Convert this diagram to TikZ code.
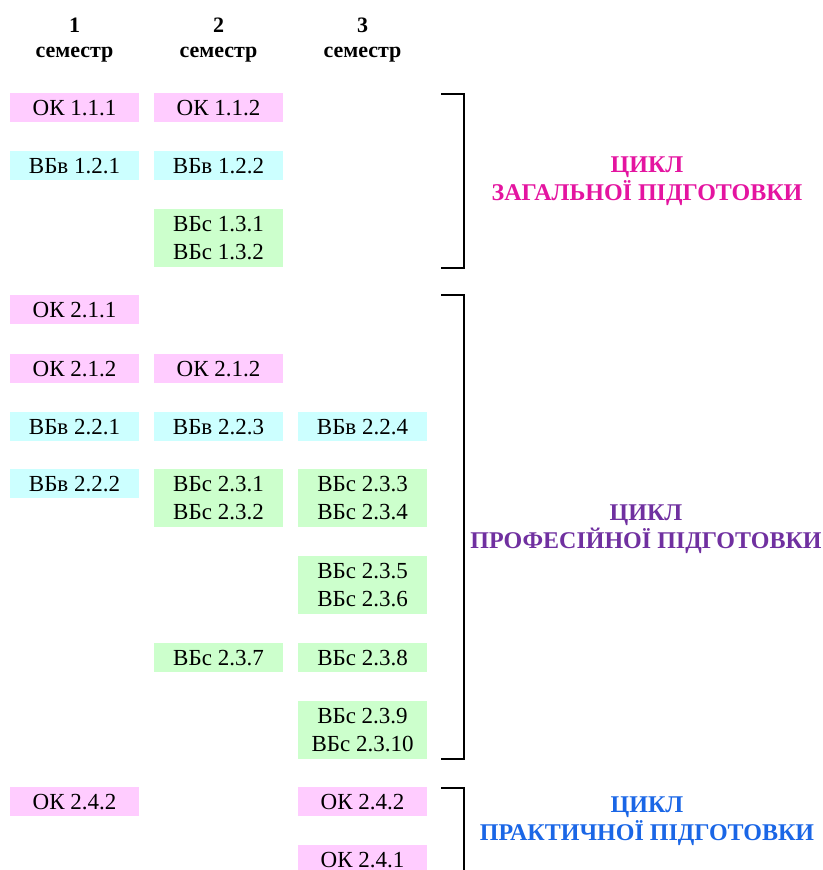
\documentclass[tikz,border=0pt]{standalone}
\usepackage{fontspec}
\setmainfont{Liberation Serif}
\usetikzlibrary{positioning}
\definecolor{okpink}{RGB}{255,204,255}
\definecolor{vbvcyan}{RGB}{204,255,255}
\definecolor{vbsgreen}{RGB}{204,255,204}
\definecolor{zagcol}{RGB}{228,20,160}
\definecolor{profcol}{RGB}{112,48,160}
\definecolor{prakcol}{RGB}{26,102,230}

\begin{document}
\begin{tikzpicture}[x=1pt,y=-1pt,
        subj/.style={anchor=north,minimum width=129pt,minimum height=29pt,inner sep=0pt,
            align=center,font=\fontsize{23}{28}\selectfont},
        ok/.style={subj,fill=okpink},
        vbv/.style={subj,fill=vbvcyan},
        vbs/.style={subj,fill=vbsgreen},
        two/.style={minimum height=58pt},
        sem/.style={align=center,font=\bfseries\fontsize{22}{25}\selectfont},
        cycle/.style={align=center,font=\bfseries\fontsize{24}{28}\selectfont},
        brk/.style={line width=1.4pt}]
            \clip (0,0) rectangle (822,870);
            \node [sem] (s1) at (74.5,40) {1\\семестр};
            \node [sem] (s2) at (218.5,40) {2\\семестр};
            \node [sem] (s3) at (362.5,40) {3\\семестр};

            \node [ok] (a1) at (74.5,93) {ОК 1.1.1};
            \node [ok] (a2) at (218.5,93) {ОК 1.1.2};
            \node [vbv] (b1) at (74.5,151) {ВБв 1.2.1};
            \node [vbv] (b2) at (218.5,151) {ВБв 1.2.2};
            \node [vbs,two] (c2) at (218.5,209) {ВБс 1.3.1\\ВБс 1.3.2};

            \node [ok] (d1) at (74.5,295) {ОК 2.1.1};
            \node [ok] (e1) at (74.5,354) {ОК 2.1.2};
            \node [ok] (e2) at (218.5,354) {ОК 2.1.2};
            \node [vbv] (f1) at (74.5,412) {ВБв 2.2.1};
            \node [vbv] (f2) at (218.5,412) {ВБв 2.2.3};
            \node [vbv] (f3) at (362.5,412) {ВБв 2.2.4};
            \node [vbv] (g1) at (74.5,469) {ВБв 2.2.2};
            \node [vbs,two] (g2) at (218.5,469) {ВБс 2.3.1\\ВБс 2.3.2};
            \node [vbs,two] (g3) at (362.5,469) {ВБс 2.3.3\\ВБс 2.3.4};
            \node [vbs,two] (h3) at (362.5,556) {ВБс 2.3.5\\ВБс 2.3.6};
            \node [vbs] (i2) at (218.5,643) {ВБс 2.3.7};
            \node [vbs] (i3) at (362.5,643) {ВБс 2.3.8};
            \node [vbs,two] (j3) at (362.5,701) {ВБс 2.3.9\\ВБс 2.3.10};

            \node [ok] (k1) at (74.5,787) {ОК 2.4.2};
            \node [ok] (k3) at (362.5,787) {ОК 2.4.2};
            \node [ok] (l3) at (362.5,845) {ОК 2.4.1};

            \coordinate (zt) at (441,94);
            \coordinate (zb) at (441,268);
            \coordinate (pt) at (441,295);
            \coordinate (pb) at (441,759);
            \coordinate (kt) at (441,788);
            \coordinate (kb) at (441,900);
            \draw [brk] (zt) -- ++(23,0) |- (zb);
            \draw [brk] (pt) -- ++(23,0) |- (pb);
            \draw [brk] (kt) -- ++(23,0) |- (kb);

            \node [cycle,text=zagcol] (zag) at (647,181) {ЦИКЛ\\ЗАГАЛЬНОЇ ПІДГОТОВКИ};
            \node [cycle,text=profcol] (prof) at (646,529) {ЦИКЛ\\ПРОФЕСІЙНОЇ ПІДГОТОВКИ};
            \node [cycle,text=prakcol] (prak) at (647,821) {ЦИКЛ\\ПРАКТИЧНОЇ ПІДГОТОВКИ};
        \end{tikzpicture}
\end{document}
